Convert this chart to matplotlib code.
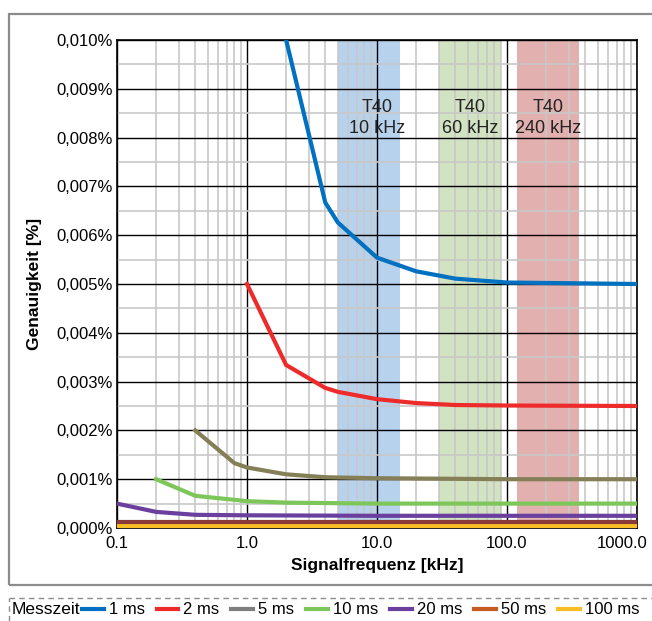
import matplotlib
matplotlib.use("Agg")
import matplotlib.pyplot as plt
from matplotlib.lines import Line2D
from matplotlib.patches import Rectangle
from matplotlib.transforms import ScaledTranslation
from matplotlib.ticker import FixedLocator, FuncFormatter, NullFormatter

plt.rcParams['font.family'] = ['Liberation Sans', 'DejaVu Sans']

# accuracy curves, frequency in kHz, accuracy in %
f_1ms = [2, 4, 5, 10, 20, 40, 100, 1000]
acc_1ms = [0.0100, 0.00667, 0.00626, 0.00554, 0.00526, 0.00511, 0.00503, 0.00500]
f_2ms = [1, 2, 4, 5, 10, 20, 40, 100, 1000]
acc_2ms = [0.0050, 0.00334, 0.00287, 0.00279, 0.00264, 0.00256, 0.00252, 0.00251, 0.00250]
f_5ms = [0.4, 0.8, 1, 2, 4, 10, 100, 1000]
acc_5ms = [0.0020, 0.00133, 0.00124, 0.00110, 0.00104, 0.00102, 0.00100, 0.00100]
f_10ms = [0.2, 0.4, 1, 2, 10, 1000]
acc_10ms = [0.0010, 0.00066, 0.00055, 0.00052, 0.00050, 0.00050]
f_20ms = [0.1, 0.2, 0.4, 1, 10, 1000]
acc_20ms = [0.0005, 0.00033, 0.00027, 0.00026, 0.00025, 0.00025]
f_50ms = [0.1, 1000]
acc_50ms = [0.00012, 0.00012]
f_100ms = [0.1, 1000]
acc_100ms = [0.00005, 0.00005]

labels = ['1 ms', '2 ms', '5 ms', '10 ms', '20 ms', '50 ms', '100 ms']
line_colors = ['#0070C0', '#EE2B2B', '#857F57', '#7DC75A', '#6A3F9E', '#8B3A3A', '#F9BE26']
legend_colors = ['#0070C0', '#EE2B2B', '#7F7F7F', '#7DC75A', '#6A3F9E', '#C55A22', '#F9BE26']

# T40 frequency bands (kHz)
band_lo = [5, 30, 120]
band_hi = [15, 90, 360]
band_centers = [10, 52, 208]
band_labels = ['T40\n10 kHz', 'T40\n60 kHz', 'T40\n240 kHz']
band_colors = ['#B7D2EC', '#D2E3C2', '#E3B0B0']

fig = plt.figure(figsize=(6.52, 6.21), dpi=100)
ax = fig.add_axes([117 / 652, 1 - 528 / 621, 520 / 652, 488 / 621])

for lo, hi, c in zip(band_lo, band_hi, band_colors):
    ax.axvspan(lo, hi, ymin=0.012, ymax=1.0, color=c, lw=0, zorder=1)
for xc, txt in zip(band_centers, band_labels):
    ax.text(xc, 0.0084, txt, ha='center', va='center', fontsize=13,
            color='#222222', linespacing=1.25, zorder=4)

xs = [f_1ms, f_2ms, f_5ms, f_10ms, f_20ms, f_50ms, f_100ms]
ys = [acc_1ms, acc_2ms, acc_5ms, acc_10ms, acc_20ms, acc_50ms, acc_100ms]
for x, y, c in reversed(list(zip(xs, ys, line_colors))):
    ax.plot(x, y, color=c, lw=3, solid_joinstyle='miter', zorder=3)

ax.set_xscale('log')
ax.set_xlim(0.1, 1000)
ax.set_ylim(0, 0.0100)

ax.xaxis.set_major_locator(FixedLocator([0.1, 1, 10, 100, 1000]))
ax.xaxis.set_major_formatter(FuncFormatter(lambda v, p: f'{v:.1f}'))
minors = [m * 10.0 ** e for e in range(-1, 3) for m in range(2, 10)]
ax.xaxis.set_minor_locator(FixedLocator(minors))
ax.xaxis.set_minor_formatter(NullFormatter())

ax.yaxis.set_major_locator(FixedLocator([i * 0.001 for i in range(11)]))
ax.yaxis.set_major_formatter(FuncFormatter(lambda v, p: f'{v:.3f}%'.replace('.', ',')))
ax.yaxis.set_minor_locator(FixedLocator([0.0005 + i * 0.001 for i in range(10)]))

ax.grid(which='major', color='black', lw=1.0)
ax.grid(which='minor', color='#C8C8C8', lw=1.2)
ax.tick_params(which='both', length=0, labelsize=12, colors='black')
ax.tick_params(axis='x', pad=6)
ax.tick_params(axis='y', pad=3)
for s in ax.spines.values():
    s.set_color('black')
    s.set_linewidth(1.2)

# keep the last x label inside the figure
last = ax.get_xticklabels()[-1]
last.set_transform(last.get_transform() + ScaledTranslation(-15 / 100, 0, fig.dpi_scale_trans))

ax.set_xlabel('Signalfrequenz [kHz]', fontsize=12.5, fontweight='bold', labelpad=5)
ax.set_ylabel('Genauigkeit [%]', fontsize=12.5, fontweight='bold', labelpad=10)

# outer frame and legend separator
fig.patches.append(Rectangle((9 / 652, 1 - 585 / 621), 1.0, 571 / 621,
                             transform=fig.transFigure, fill=False,
                             edgecolor='#8C8C8C', lw=1.6))
fig.add_artist(Line2D([9 / 652, 1.0], [1 - 598 / 621] * 2, transform=fig.transFigure,
                      color='#8C8C8C', lw=1, ls=(0, (4, 3))))
fig.add_artist(Line2D([9 / 652, 9 / 652], [0, 1 - 598 / 621], transform=fig.transFigure,
                      color='#8C8C8C', lw=1, ls=(0, (4, 3))))

fig.text(12 / 652, 1 - 610 / 621, 'Messzeit', fontsize=12.5, va='center', ha='left')
handles = [Line2D([], [], color=c, lw=3) for c in legend_colors]
fig.legend(handles, labels, loc='center left', bbox_to_anchor=(82 / 652, 1 - 610 / 621),
           ncol=7, frameon=False, fontsize=12, handlelength=1.3, handletextpad=0.3,
           columnspacing=0.72, borderpad=0, borderaxespad=0)

fig.savefig('out.png', dpi=100)
